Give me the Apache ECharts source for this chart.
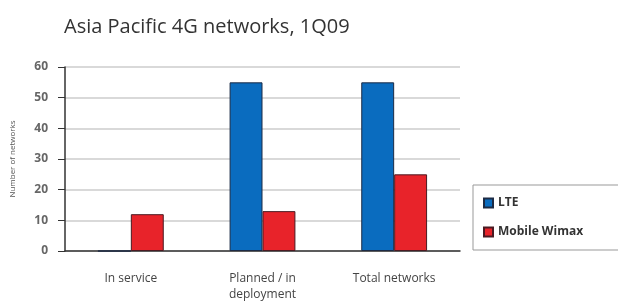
<!DOCTYPE html>
<html><head><meta charset="utf-8">
<script src="https://cdn.jsdelivr.net/npm/echarts@6/dist/echarts.min.js"></script>
<style>html,body{margin:0;padding:0;background:#fff}#c{width:618px;height:305px}</style>
</head><body><div id="c"></div>
<script>
const categories = ['In service', 'Planned / in\ndeployment', 'Total networks'];
const lteValues = [0, 55, 55];
const wimaxValues = [12, 13, 25];
const yTicks = [0, 10, 20, 30, 40, 50, 60];

const chart = echarts.init(document.getElementById('c'));
chart.setOption({
  animation: false,
  title: {
    text: 'Asia Pacific 4G networks, 1Q09',
    left: 59, top: 12,
    textStyle: { fontFamily: 'Open Sans', fontWeight: 'normal', fontSize: 20, color: '#333' }
  },
  legend: {
    orient: 'vertical',
    left: 473, top: 185,
    padding: [12, 60, 12, 10],
    itemGap: 17,
    borderColor: '#999', borderWidth: 1,
    icon: 'rect', itemWidth: 9, itemHeight: 9,
    textStyle: { fontFamily: 'Open Sans', fontWeight: 'bold', fontSize: 12, color: '#333' },
    data: ['LTE', 'Mobile Wimax']
  },
  grid: { left: 65, right: 158, top: 67, bottom: 54 },
  xAxis: {
    type: 'category',
    data: categories,
    axisLine: { lineStyle: { color: '#333', width: 1.5 } },
    axisTick: { show: false },
    axisLabel: { fontFamily: 'Open Sans', fontSize: 12, color: '#444', margin: 20, lineHeight: 16 }
  },
  yAxis: {
    type: 'value', min: yTicks[0], max: yTicks[yTicks.length - 1], interval: 10,
    name: 'Number of networks', nameLocation: 'middle', nameGap: 48,
    nameTextStyle: { fontFamily: 'Open Sans', fontSize: 8, color: '#555' },
    axisLine: { show: true, lineStyle: { color: '#333', width: 1.5 } },
    axisTick: { show: true, length: 7, lineStyle: { color: '#333' } },
    axisLabel: { fontFamily: 'Open Sans', fontSize: 12, fontWeight: 'bold', color: '#666', margin: 17 },
    splitLine: { lineStyle: { color: '#cccccc', width: 1.5 } }
  },
  series: [
    { name: 'LTE', type: 'bar', data: lteValues, barWidth: '25%', barGap: '0%',
      itemStyle: { color: '#0a6cbf', borderColor: '#1c2b45', borderWidth: 1 } },
    { name: 'Mobile Wimax', type: 'bar', data: wimaxValues, barWidth: '25%',
      itemStyle: { color: '#e8232a', borderColor: '#4a1a22', borderWidth: 1 } }
  ]
});
</script></body></html>
